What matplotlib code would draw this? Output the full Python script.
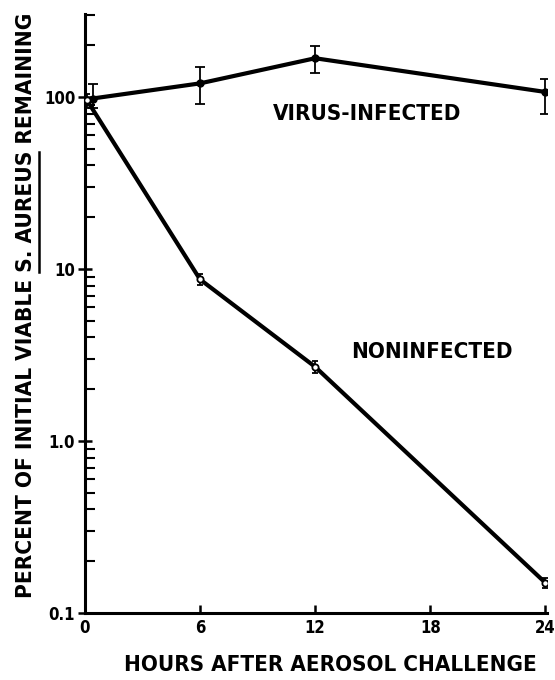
import numpy as np
import matplotlib
matplotlib.use('Agg')
import matplotlib.pyplot as plt
from matplotlib import font_manager
from matplotlib.font_manager import FontProperties
from matplotlib.lines import Line2D
from matplotlib.ticker import LogLocator, FixedLocator, NullFormatter

# prefer a condensed face if one is installed
path = font_manager.findfont(FontProperties(family='DejaVu Sans', stretch='condensed'))
if 'Condensed' in path:
    plt.rcParams['font.family'] = 'DejaVu Sans'
    plt.rcParams['font.stretch'] = 'condensed'
    scale = 1.0
else:
    plt.rcParams['font.family'] = 'Liberation Sans'
    scale = 0.82

hours_virus = [0.4, 6, 12, 24]
virus = [98, 120, 168, 107]
virus_lo = [86, 91, 138, 80]
virus_hi = [119, 149, 198, 127]
hours_non = [0.1, 6, 12, 24]
noninf = [96, 8.7, 2.7, 0.15]
non_lo = [86, 8.1, 2.5, 0.14]
non_hi = [104, 9.3, 2.9, 0.16]

ylab_pre = 'PERCENT OF INITIAL VIABLE '
ylab_mid = 'S. AUREUS'
ylab_post = ' REMAINING'

fig = plt.figure(figsize=(5.55, 6.8), dpi=100)
ax = fig.add_axes([0.153, 0.0985, 0.833, 0.881])

v = np.array(virus)
n = np.array(noninf)
ax.errorbar(hours_virus, virus, yerr=[v - np.array(virus_lo), np.array(virus_hi) - v],
            color='black', lw=3, marker='o', ms=5, mfc='black',
            elinewidth=1.3, capsize=3.5, capthick=1.3, zorder=3)
ax.errorbar(hours_non, noninf, yerr=[n - np.array(non_lo), np.array(non_hi) - n],
            color='black', lw=3, marker='o', ms=4.5, mfc='white', mew=1.3,
            elinewidth=1.3, capsize=2.5, capthick=1.3, zorder=3)

ax.set_yscale('log')
ax.set_ylim(0.1, 304)
ax.set_xlim(0, 24.1)

for s in ['top', 'right']:
    ax.spines[s].set_visible(False)
for s in ['left', 'bottom']:
    ax.spines[s].set_linewidth(2.2)

ax.xaxis.set_major_locator(FixedLocator([0, 6, 12, 18, 24]))
ax.set_xticklabels(['0', '6', '12', '18', '24'], fontsize=12, fontweight='bold')
ax.tick_params(axis='x', direction='in', length=6, width=1.8, pad=4)

ax.yaxis.set_major_locator(FixedLocator([0.1, 1, 10, 100]))
ax.set_yticklabels(['0.1', '1.0', '10', '100'], fontsize=12, fontweight='bold')
ax.yaxis.set_minor_locator(LogLocator(base=10, subs=[2, 3, 4, 5, 6, 7, 8, 9]))
ax.yaxis.set_minor_formatter(NullFormatter())
ax.tick_params(axis='y', which='major', direction='inout', length=10, width=1.8, pad=2)
ax.tick_params(axis='y', which='minor', direction='in', length=7, width=1.5)

ax.text(14.7, 80, 'VIRUS-INFECTED', fontsize=16 * scale, fontweight='bold',
        ha='center', va='center')
ax.text(18.1, 3.3, 'NONINFECTED', fontsize=16 * scale, fontweight='bold',
        ha='center', va='center')

fig.text(330 / 555, 1 - 665 / 680, 'HOURS AFTER AEROSOL CHALLENGE',
         fontsize=16 * scale, fontweight='bold', ha='center', va='center')

# y label with underlined species name
fs = 16.2 * scale
xl, yc = 26 / 555, 1 - 305 / 680
full = ylab_pre + ylab_mid + ylab_post
t = fig.text(xl, yc, full, rotation=90, fontsize=fs, fontweight='bold',
             ha='center', va='center')
r = fig.canvas.get_renderer()
def w(s):
    tt = fig.text(0, 0, s, fontsize=fs, fontweight='bold')
    e = tt.get_window_extent(r).width
    tt.remove()
    return e
W = w(full)
a = w(ylab_pre)
b = w(ylab_pre + ylab_mid)
H = fig.bbox.height
y0 = yc * H - W / 2
ux = 39
fig.add_artist(Line2D([ux / fig.bbox.width] * 2, [(y0 + a) / H, (y0 + b - 2) / H],
                      transform=fig.transFigure, color='black', lw=1.8))

fig.savefig('out.png', dpi=100)
